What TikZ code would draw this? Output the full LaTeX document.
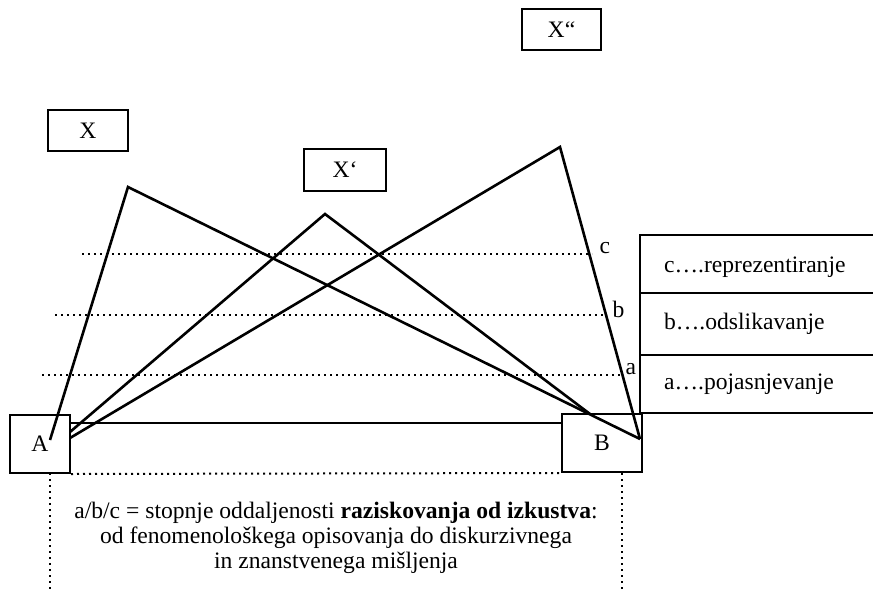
\documentclass[tikz,border=0pt]{standalone}
\usepackage{fontspec}
\setmainfont{Liberation Serif}
\usetikzlibrary{positioning}
\begin{document}
\begin{tikzpicture}[
    x=0.5pt, y=-0.5pt,
    font=\fontsize{11.8}{12.5}\selectfont,
    box/.style={draw, line width=1pt, inner sep=0pt},
    ray/.style={line width=1.3pt},
    level/.style={dotted, line width=1pt},
]
    \useasboundingbox (0,0) rectangle (873,589);
    % boxes
    \node[box, minimum width=40pt, minimum height=20.5pt] (x0) at (88,130.5) {X};
    \node[box, minimum width=41pt, minimum height=21pt] (x1) at (345,170) {X‘};
    \node[box, minimum width=39.5pt, minimum height=20.5pt] (x2) at (561.5,29.5) {X“};
    \node[box, minimum width=30pt, minimum height=29pt] (pa) at (40,444) {A};
    \node[box, minimum width=40pt, minimum height=29pt] (pb) at (602,443) {B};
    \draw[line width=1pt] (pa.east |- 0,423) -- (pb.west |- 0,423);
    % apexes and ends
    \coordinate (tx0) at (128,187);
    \coordinate (tx1) at (325,214);
    \coordinate (tx2) at (560,147);
    \coordinate (ea0) at (50,440);
    \coordinate (ea1) at (70,432);
    \coordinate (ea2) at (70,438);
    \coordinate (eb0) at (640,439);
    \coordinate (eb1) at (590,414);
    \draw[ray] (ea0) -- (tx0) -- (eb0);
    \draw[ray] (ea1) -- (tx1) -- (eb1);
    \draw[ray] (ea2) -- (tx2) -- (eb0);
    % levels
    \coordinate (lc) at (82,254);
    \coordinate (lb) at (55,315);
    \coordinate (la) at (42,375);
    \draw[level] (lc) -- (592,254) node[right=0pt, yshift=3pt] (nc) {c};
    \draw[level] (lb) -- (607,315) node[right=-1pt, yshift=3pt] (nb) {b};
    \draw[level] (la) -- (622,375) node[right=-2pt, yshift=3pt] (na) {a};
    % legend
    \draw[line width=1pt] (873,235) -- (640,235) -- (640,413) -- (873,413);
    \draw[line width=1pt] (640,293) -- (873,293);
    \draw[line width=1pt] (640,355) -- (873,355);
    \node[anchor=west] (lgc) at (657,267) {c….reprezentiranje};
    \node[anchor=west] (lgb) at (657,324) {b….odslikavanje};
    \node[anchor=west] (lga) at (657,384) {a….pojasnjevanje};
    % bottom
    \draw[level] (pa.south east) -- (pb.south west);
    \draw[level] (50,473) -- (50,589);
    \draw[level] (622,473) -- (622,589);
    \node[align=center] (note) at (336,538) {a/b/c = stopnje oddaljenosti \textbf{raziskovanja od izkustva}:\\
        od fenomenološkega opisovanja do diskurzivnega\\
        in znanstvenega mišljenja};
\end{tikzpicture}
\end{document}
